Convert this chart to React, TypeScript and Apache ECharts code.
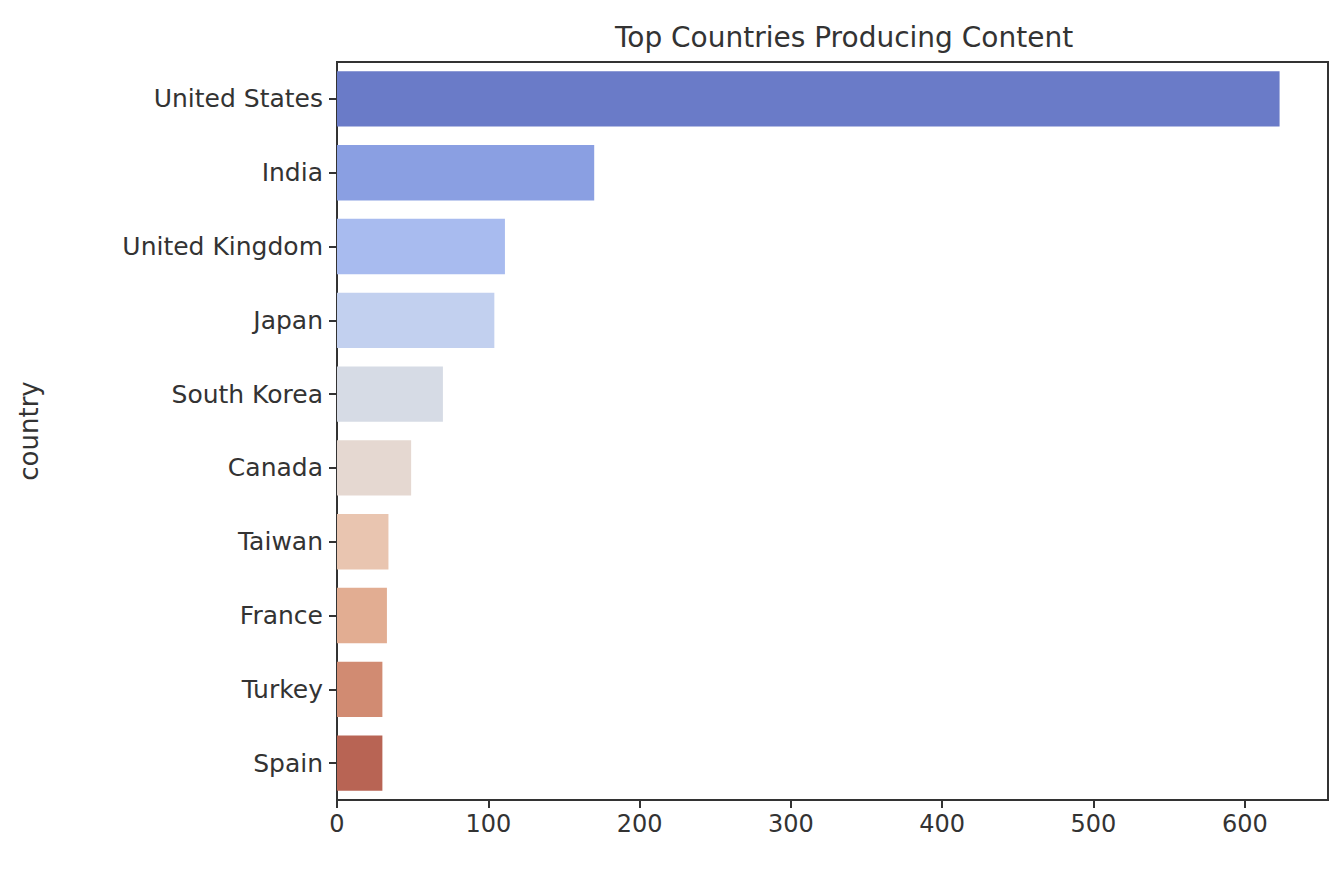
import { useEffect, useRef } from 'react';
import * as echarts from 'echarts';

const countries = ['United States', 'India', 'United Kingdom', 'Japan', 'South Korea', 'Canada', 'Taiwan', 'France', 'Turkey', 'Spain'];
const counts = [623, 170, 111, 104, 70, 49, 34, 33, 30, 30];
const colors = ['#6a7bc8', '#8a9fe2', '#a8bbef', '#c2d0ef', '#d6dbe5', '#e5d8d1', '#e9c5b0', '#e2ad92', '#d18b72', '#b86454'];

export default function App() {
  const chartRef = useRef<HTMLDivElement>(null);

  useEffect(() => {
    if (!chartRef.current) return;
    const chart = echarts.init(chartRef.current, undefined, { renderer: 'svg' });
    const font = 'DejaVu Sans';
    chart.setOption({
      animation: false,
      textStyle: { fontFamily: font },
      title: {
        text: 'Top Countries Producing Content',
        left: 831,
        top: 10,
        textAlign: 'center',
        textStyle: { fontSize: 28, fontWeight: 'normal', color: '#333', fontFamily: font },
      },
      grid: { left: 327, right: 8, top: 54, bottom: 64, show: true, borderColor: '#333', borderWidth: 2 },
      xAxis: {
        type: 'value',
        min: 0,
        max: 655,
        interval: 100,
        splitLine: { show: false },
        axisLine: { show: true, lineStyle: { color: '#333', width: 2 } },
        axisTick: { show: true, length: 8, lineStyle: { color: '#333', width: 2 } },
        axisLabel: { color: '#333', fontSize: 24, margin: 12, showMaxLabel: false },
      },
      yAxis: {
        type: 'category',
        inverse: true,
        data: countries,
        name: 'country',
        nameLocation: 'middle',
        nameGap: 295,
        nameTextStyle: { fontSize: 26, color: '#333' },
        axisLine: { show: true, lineStyle: { color: '#333', width: 2 } },
        axisTick: { show: true, length: 8, alignWithLabel: true, lineStyle: { color: '#333', width: 2 } },
        axisLabel: { color: '#333', fontSize: 25, margin: 14 },
      },
      series: [
        {
          type: 'bar',
          barCategoryGap: '25%',
          data: counts.map((v, i) => ({ value: v, itemStyle: { color: colors[i] } })),
        },
      ],
    });
    return () => chart.dispose();
  }, []);

  return <div ref={chartRef} style={{ width: 1328, height: 856 }} />;
}
